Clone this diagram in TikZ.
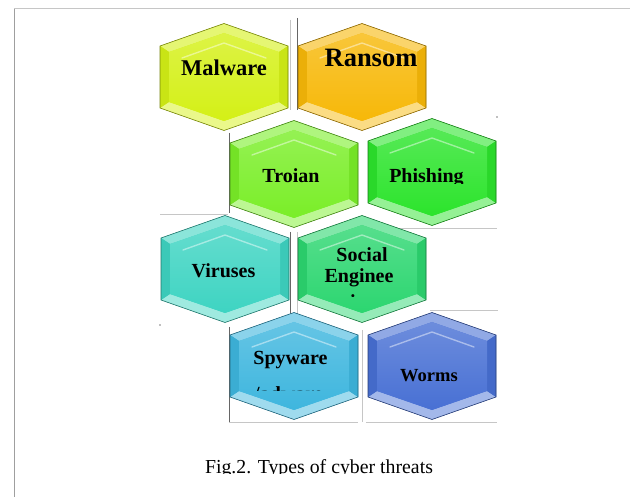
\documentclass[tikz,border=0pt]{standalone}
\usepackage{fontspec}
\setmainfont{Liberation Serif}
\definecolor{cMal}{RGB}{212,240,22}
\definecolor{cRan}{RGB}{247,184,8}
\definecolor{cTro}{RGB}{122,238,40}
\definecolor{cPhi}{RGB}{44,228,44}
\definecolor{cVir}{RGB}{62,212,194}
\definecolor{cSoc}{RGB}{44,214,112}
\definecolor{cSpy}{RGB}{62,182,222}
\definecolor{cWor}{RGB}{72,112,212}
\newcommand\hexcell[3]{%
\begin{scope}[shift={(#1,#2)}]
 \fill[#3] (0,-53.5) -- (64,-31) -- (64,31) -- (0,53.5) -- (-64,31) -- (-64,-31) -- cycle;
 \fill[#3!60!white] (0,-53.5) -- (64,-31) -- (55,-25) -- (0,-44) -- (-55,-25) -- (-64,-31) -- cycle;
 \fill[#3!50!white] (64,31) -- (0,53.5) -- (-64,31) -- (-55,25) -- (0,44) -- (55,25) -- cycle;
 \fill[#3!95!black] (-64,-31) -- (-55,-25) -- (-55,25) -- (-64,31) -- cycle;
 \fill[#3!95!black] (64,-31) -- (55,-25) -- (55,25) -- (64,31) -- cycle;
 \shade[top color=#3!80!white, bottom color=#3] (0,-44) -- (55,-25) -- (55,25) -- (0,44) -- (-55,25) -- (-55,-25) -- cycle;
 \draw[white, opacity=0.45, line width=1.4, line cap=round] (-42,-19) -- (0,-34) -- (42,-19);
 \draw[#3!55!black, line width=0.6] (0,-53.5) -- (64,-31) -- (64,31) -- (0,53.5) -- (-64,31) -- (-64,-31) -- cycle;
\end{scope}}
\tikzset{
  lbl/.style={anchor=base, inner sep=0pt, text=black, font=\bfseries\fontsize{20}{24}\selectfont},
  frame/.style={draw=gray!45, line width=0.8},
  dark/.style={draw=gray!80!black, line width=0.8}
}
\begin{document}
\begin{tikzpicture}[x=1pt,y=-1pt]
\useasboundingbox (0,0) rectangle (630,497);
\fill[white] (0,0) rectangle (630,497);
% frame lines
\draw[frame] (14,8) -- (630,8);
\draw[draw=gray!75, line width=1] (14,9) -- (14,497);
\draw[frame] (290,20) -- (290,110);
\draw[dark] (297,18) -- (297,110);
\draw[dark] (229,133) -- (229,213);
\draw[frame] (160,214) -- (228,214);
\draw[frame] (368,228) -- (497,228);
\fill[gray] (497,117) circle (0.8);
\draw[dark] (290,232) -- (290,322);
\draw[frame] (297,232) -- (297,322);
\draw[frame] (430,310) -- (498,310);
\fill[gray] (160,325) circle (0.8);
\draw[dark] (229,327) -- (229,422);
\draw[frame] (362,330) -- (362,422);
\draw[frame] (229,422) -- (358,422);
\draw[frame] (366,422) -- (497,422);
% hexagons
\hexcell{224}{77}{cMal}
\hexcell{362}{77}{cRan}
\hexcell{294}{174}{cTro}
\hexcell{432}{172}{cPhi}
\hexcell{225}{269}{cVir}
\hexcell{362}{269}{cSoc}
\hexcell{294}{366}{cSpy}
\hexcell{432}{366}{cWor}
% labels
\node[lbl, font=\bfseries\fontsize{22.5}{26}\selectfont] (malware) at (224,76) {Malware};
\node[lbl, font=\bfseries\fontsize{26.5}{30}\selectfont] (ransom) at (371,67) {Ransom};
\begin{scope}
\clip (220,150) rectangle (500,184);
\node[lbl] (troian) at (291,183) {Troian};
\node[lbl] (phishing) at (426.5,183) {Phishing};
\end{scope}
\node[lbl] (viruses) at (223.5,278) {Viruses};
\node[lbl] (social) at (362,262) {Social};
\node[lbl] (enginee) at (359,283) {Enginee};
\begin{scope}
\clip (349,290) rectangle (356,296.5);
\node[lbl] (ring) at (359,309) {ring};
\end{scope}
\node[lbl] (spyware) at (290.5,365) {Spyware};
\begin{scope}
\clip (240,380) rectangle (340,391);
\node[lbl] (adware) at (288.5,400) {/adware};
\end{scope}
\node[lbl, font=\bfseries\fontsize{18.5}{22}\selectfont] (worms) at (429,382) {Worms};
% caption
\begin{scope}
\clip (150,440) rectangle (480,473);
\node[anchor=base, inner sep=0pt, font=\fontsize{19.8}{24}\selectfont] (caption) at (319,473) {Fig.2. Types of cyber threats};
\end{scope}
\end{tikzpicture}
\end{document}
